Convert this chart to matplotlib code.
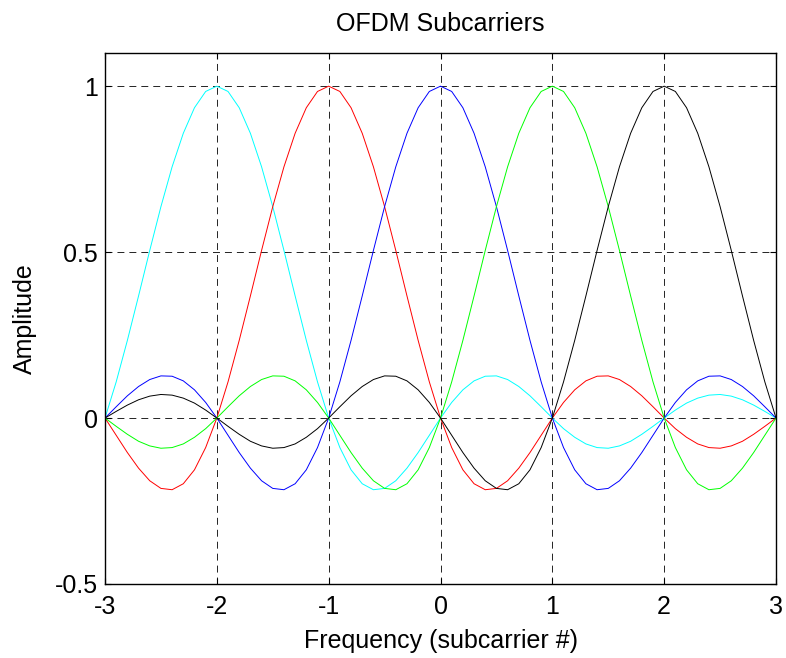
import matplotlib
matplotlib.use('Agg')
import matplotlib.pyplot as plt
import numpy as np

plt.rcParams['font.family'] = ['Liberation Sans', 'DejaVu Sans']
plt.rcParams['lines.scale_dashes'] = False

# frequency axis (subcarrier #), sampled every 0.1
freq = np.linspace(-3, 3, 61)

# amplitudes, one list per subcarrier
sub_m2 = [0.000, 0.109, 0.234, 0.368, 0.505, 0.637, 0.757, 0.858, 0.935, 0.984, 1.000,
          0.984, 0.935, 0.858, 0.757, 0.637, 0.505, 0.368, 0.234, 0.109, 0.000,
          -0.089, -0.156, -0.198, -0.216, -0.212, -0.189, -0.151, -0.104, -0.052, 0.000,
          0.047, 0.085, 0.112, 0.126, 0.127, 0.116, 0.095, 0.067, 0.034, 0.000,
          -0.032, -0.058, -0.078, -0.089, -0.091, -0.084, -0.070, -0.049, -0.025, 0.000,
          0.024, 0.045, 0.060, 0.069, 0.071, 0.066, 0.055, 0.039, 0.020, 0.000]
sub_m1 = [0.000, -0.052, -0.104, -0.151, -0.189, -0.212, -0.216, -0.198, -0.156, -0.089, 0.000,
          0.109, 0.234, 0.368, 0.505, 0.637, 0.757, 0.858, 0.935, 0.984, 1.000,
          0.984, 0.935, 0.858, 0.757, 0.637, 0.505, 0.368, 0.234, 0.109, 0.000,
          -0.089, -0.156, -0.198, -0.216, -0.212, -0.189, -0.151, -0.104, -0.052, 0.000,
          0.047, 0.085, 0.112, 0.126, 0.127, 0.116, 0.095, 0.067, 0.034, 0.000,
          -0.032, -0.058, -0.078, -0.089, -0.091, -0.084, -0.070, -0.049, -0.025, 0.000]
sub_0 = [0.000, 0.034, 0.067, 0.095, 0.116, 0.127, 0.126, 0.112, 0.085, 0.047, 0.000,
         -0.052, -0.104, -0.151, -0.189, -0.212, -0.216, -0.198, -0.156, -0.089, 0.000,
         0.109, 0.234, 0.368, 0.505, 0.637, 0.757, 0.858, 0.935, 0.984, 1.000,
         0.984, 0.935, 0.858, 0.757, 0.637, 0.505, 0.368, 0.234, 0.109, 0.000,
         -0.089, -0.156, -0.198, -0.216, -0.212, -0.189, -0.151, -0.104, -0.052, 0.000,
         0.047, 0.085, 0.112, 0.126, 0.127, 0.116, 0.095, 0.067, 0.034, 0.000]
sub_p1 = [0.000, -0.025, -0.049, -0.070, -0.084, -0.091, -0.089, -0.078, -0.058, -0.032, 0.000,
          0.034, 0.067, 0.095, 0.116, 0.127, 0.126, 0.112, 0.085, 0.047, 0.000,
          -0.052, -0.104, -0.151, -0.189, -0.212, -0.216, -0.198, -0.156, -0.089, 0.000,
          0.109, 0.234, 0.368, 0.505, 0.637, 0.757, 0.858, 0.935, 0.984, 1.000,
          0.984, 0.935, 0.858, 0.757, 0.637, 0.505, 0.368, 0.234, 0.109, 0.000,
          -0.089, -0.156, -0.198, -0.216, -0.212, -0.189, -0.151, -0.104, -0.052, 0.000]
sub_p2 = [0.000, 0.020, 0.039, 0.055, 0.066, 0.071, 0.069, 0.060, 0.045, 0.024, 0.000,
          -0.025, -0.049, -0.070, -0.084, -0.091, -0.089, -0.078, -0.058, -0.032, 0.000,
          0.034, 0.067, 0.095, 0.116, 0.127, 0.126, 0.112, 0.085, 0.047, 0.000,
          -0.052, -0.104, -0.151, -0.189, -0.212, -0.216, -0.198, -0.156, -0.089, 0.000,
          0.109, 0.234, 0.368, 0.505, 0.637, 0.757, 0.858, 0.935, 0.984, 1.000,
          0.984, 0.935, 0.858, 0.757, 0.637, 0.505, 0.368, 0.234, 0.109, 0.000]

series = [sub_m2, sub_m1, sub_0, sub_p1, sub_p2]
colors = ['#00ffff', '#ff0000', '#0000ff', '#00ff00', '#000000']

xticks = [-3, -2, -1, 0, 1, 2, 3]
yticks = [-0.5, 0, 0.5, 1]
ytick_labels = ['-0.5', '0', '0.5', '1']

fig = plt.figure(figsize=(7.86, 6.58), dpi=100)
ax = fig.add_axes([0.1336, 0.1125, 0.8537, 0.807])

for y, c in zip(series, colors):
    ax.plot(freq, y, color=c, linewidth=0.7)

ax.set_xlim(-3, 3)
ax.set_ylim(-0.5, 1.1)
ax.set_xticks(xticks)
ax.set_xticklabels([str(t) for t in xticks])
ax.set_yticks(yticks)
ax.set_yticklabels(ytick_labels)
ax.grid(True, color='black', linestyle=(0, (5, 3.6)), linewidth=0.6)
ax.tick_params(direction='in', length=4, width=0.8, labelsize=18,
               top=True, right=True)
ax.tick_params(axis='x', pad=8)
ax.tick_params(axis='y', pad=5)
for s in ax.spines.values():
    s.set_linewidth(1.0)

ax.set_title('OFDM Subcarriers', fontsize=18, pad=16)
ax.set_xlabel('Frequency (subcarrier #)', fontsize=18, labelpad=7)
ax.set_ylabel('Amplitude', fontsize=18, labelpad=13)

fig.savefig('out.png', dpi=100)
